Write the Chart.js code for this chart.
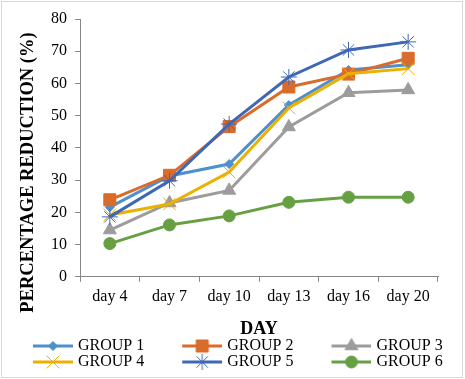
<!DOCTYPE html>
<html>
<head>
<meta charset="utf-8">
<script src="https://cdn.jsdelivr.net/npm/chart.js@4/dist/chart.umd.min.js"></script>
<style>
  html, body { margin: 0; padding: 0; background: #fff; }
  #wrap { width: 465px; height: 379px; position: relative; }
</style>
</head>
<body>
<div id="wrap"><canvas id="chart" width="465" height="379"></canvas></div>
<script>
// chart data
const days = ["day 4", "day 7", "day 10", "day 13", "day 16", "day 20"];
const group1 = [21.6, 31.3, 35.0, 53.3, 64.2, 65.8];
const group2 = [23.9, 31.5, 46.6, 58.9, 62.9, 67.8];
const group3 = [14.5, 22.9, 26.8, 46.5, 57.1, 58.0];
const group4 = [19.2, 22.6, 32.5, 52.4, 63.0, 64.6];
const group5 = [18.6, 29.8, 47.4, 62.0, 70.4, 72.9];
const group6 = [10.3, 16.1, 18.9, 23.1, 24.7, 24.7];
const groupNames = ["GROUP 1", "GROUP 2", "GROUP 3", "GROUP 4", "GROUP 5", "GROUP 6"];
const yTicks = [0, 10, 20, 30, 40, 50, 60, 70, 80];

const colors = ["#4F8FCC", "#D96B2B", "#9C9C9C", "#EBB000", "#3E68B5", "#67A043"];
const markers = [
  { style: "rectRot", radius: 4.5, border: 1 },
  { style: "rect", radius: 8.5, border: 1 },
  { style: "triangle", radius: 7.5, border: 1 },
  { style: "crossRot", radius: 9, border: 1 },
  { style: "star", radius: 8, border: 1 },
  { style: "circle", radius: 6, border: 1 }
];
const allValues = [group1, group2, group3, group4, group5, group6];

const serif = '"Liberation Serif", "Times New Roman", serif';
Chart.defaults.font.family = serif;
Chart.defaults.font.size = 16;
Chart.defaults.color = "#000";

// legend icon: short line with marker in the middle, sitting right before the text
const legendW = 75;
function makeLegendIcon(i) {
  const c = document.createElement("canvas");
  c.width = legendW + 6;
  c.height = 22;
  const ctx = c.getContext("2d");
  ctx.strokeStyle = colors[i];
  ctx.fillStyle = colors[i];
  ctx.lineWidth = 3;
  ctx.beginPath();
  ctx.moveTo(c.width - 40, 11);
  ctx.lineTo(c.width, 11);
  ctx.stroke();
  ctx.lineWidth = markers[i].border;
  Chart.helpers.drawPoint(ctx, {
    pointStyle: markers[i].style,
    radius: markers[i].radius,
    rotation: 0,
    borderWidth: markers[i].border
  }, c.width - 20, 11);
  return c;
}

const datasets = allValues.map((vals, i) => ({
  label: groupNames[i],
  data: vals,
  borderColor: colors[i],
  backgroundColor: colors[i],
  borderWidth: 3,
  pointStyle: markers[i].style,
  pointRadius: markers[i].radius,
  pointHoverRadius: markers[i].radius,
  pointBorderWidth: markers[i].border,
  pointBackgroundColor: colors[i],
  pointBorderColor: colors[i],
  tension: 0,
  order: 6 - i
}));

// y axis title, centred like the original
const yTitlePlugin = {
  id: "yTitle",
  afterDraw(chart) {
    const ctx = chart.ctx;
    ctx.save();
    ctx.translate(28, 172.5);
    ctx.rotate(-Math.PI / 2);
    ctx.font = "bold 18.5px " + serif;
    ctx.fillStyle = "#000";
    ctx.textAlign = "center";
    ctx.textBaseline = "middle";
    ctx.fillText("PERCENTAGE REDUCTION (%)", 0, 0);
    ctx.restore();
  }
};

const borderPlugin = {
  id: "frame",
  afterDraw(chart) {
    const ctx = chart.ctx;
    ctx.save();
    ctx.strokeStyle = "#D9D9D9";
    ctx.lineWidth = 1;
    ctx.strokeRect(1.5, 1.5, 461, 376);
    ctx.restore();
  }
};

const ctx = document.getElementById("chart").getContext("2d");
new Chart(ctx, {
  type: "line",
  data: { labels: days, datasets: datasets },
  options: {
    responsive: false,
    animation: false,
    layout: { padding: { left: -5, right: 0, top: 19, bottom: -1 } },
    scales: {
      x: {
        offset: true,
        grid: { offset: true, drawOnChartArea: false, tickLength: 5, color: "#868686" },
        border: { color: "#868686" },
        ticks: { padding: 5, color: "#000", font: { size: 16 } },
        title: {
          display: true,
          text: "DAY",
          color: "#000",
          font: { size: 18, weight: "bold", lineHeight: 1 },
          padding: { top: 9, bottom: 0 }
        }
      },
      y: {
        min: 0,
        max: 80,
        afterFit: (scale) => { scale.width = 85; },
        afterBuildTicks: (scale) => { scale.ticks = yTicks.map(v => ({ value: v })); },
        grid: { drawOnChartArea: false, tickLength: 5, color: "#868686" },
        border: { color: "#868686" },
        ticks: { padding: 8, color: "#000", font: { size: 16 } }
      },
      // empty right-hand space, keeps the plot narrow while the legend uses full width
      yRight: {
        position: "right",
        afterFit: (scale) => { scale.width = 27; },
        grid: { display: false },
        border: { display: false },
        ticks: { display: false }
      }
    },
    plugins: {
      tooltip: { enabled: false },
      legend: {
        position: "bottom",
        align: "start",
        labels: {
          usePointStyle: true,
          pointStyleWidth: legendW,
          padding: 0,
          color: "#000",
          font: { size: 16 },
          generateLabels: (chart) => {
            const items = Chart.defaults.plugins.legend.labels.generateLabels(chart);
            items.sort((a, b) => a.datasetIndex - b.datasetIndex);
            items.forEach(it => { it.pointStyle = makeLegendIcon(it.datasetIndex); });
            return items;
          }
        }
      }
    }
  },
  plugins: [yTitlePlugin, borderPlugin]
});
</script>
</body>
</html>
